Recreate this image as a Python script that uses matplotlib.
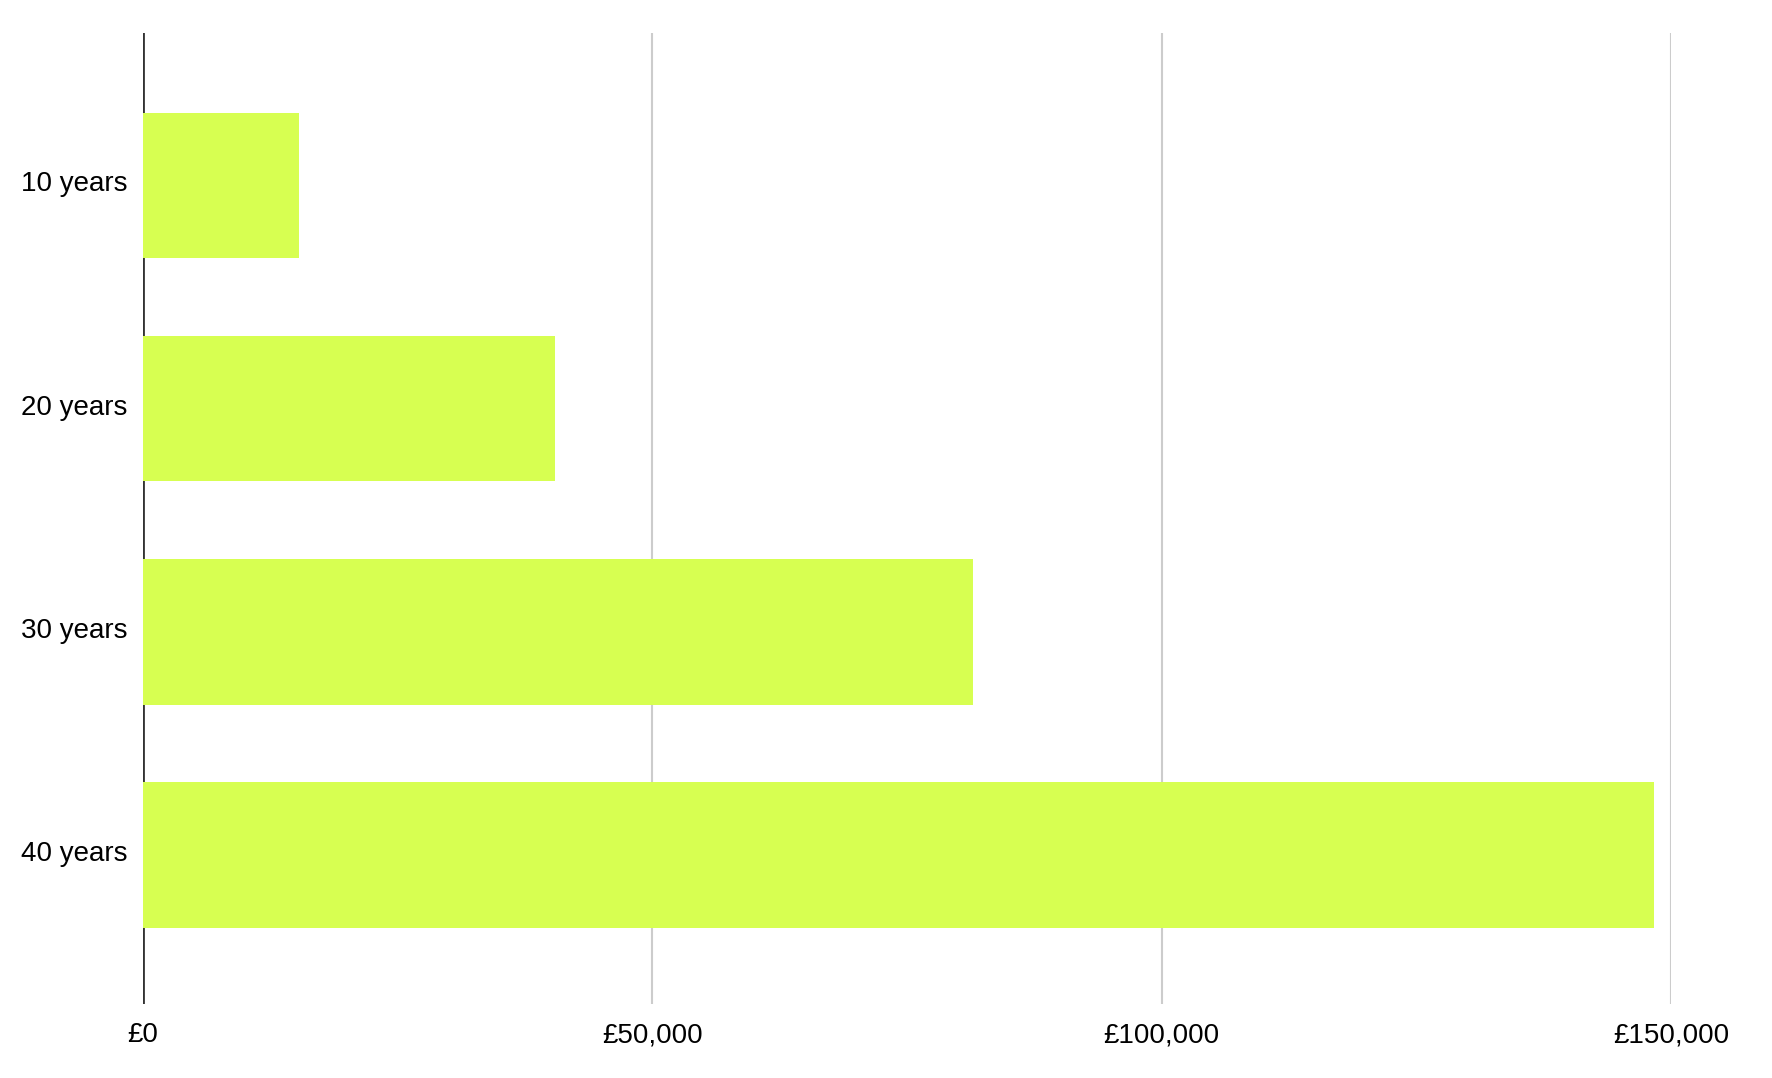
import matplotlib.pyplot as plt
import matplotlib.transforms as mtransforms
from matplotlib.ticker import FuncFormatter

# values
categories = ["10 years", "20 years", "30 years", "40 years"]
values = [15350, 40450, 81500, 148300]
x_ticks = [0, 50000, 100000, 150000]

BAR_COLOR = "#d7ff51"
GRID_COLOR = "#cccccc"
AXIS_COLOR = "#333333"

plt.rcParams['font.family'] = ['Liberation Sans', 'DejaVu Sans']

fig = plt.figure(figsize=(17.72, 10.78), dpi=100)
ax = fig.add_axes([143 / 1772, 1 - 1004 / 1078, (1671 - 143) / 1772, (1004 - 33) / 1078])

ypos = list(range(len(categories)))
ax.barh(ypos, values, height=0.652, color=BAR_COLOR, zorder=3)

ax.set_xlim(0, 150000)
ax.set_ylim(3.668, -0.684)
ax.set_xticks(x_ticks)
ax.xaxis.set_major_formatter(FuncFormatter(lambda v, p: "£{:,.0f}".format(v)))
ax.set_yticks(ypos)
ax.set_yticklabels(categories)

ax.grid(axis='x', color=GRID_COLOR, linewidth=1.5, zorder=0)
ax.axvline(0, color=AXIS_COLOR, linewidth=2, zorder=2)

for side in ['top', 'right', 'bottom', 'left']:
    ax.spines[side].set_visible(False)
ax.tick_params(axis='x', length=0, pad=13, labelsize=20, labelcolor='#000000')
ax.tick_params(axis='y', length=0, pad=11, labelsize=20, labelcolor='#000000')

# y labels sit a touch above the bar centres in the original
shift = mtransforms.ScaledTranslation(0, 3 / 72, fig.dpi_scale_trans)
for lbl in ax.get_yticklabels():
    lbl.set_transform(lbl.get_transform() + shift)

fig.savefig("out.png", dpi=100, facecolor='white')
